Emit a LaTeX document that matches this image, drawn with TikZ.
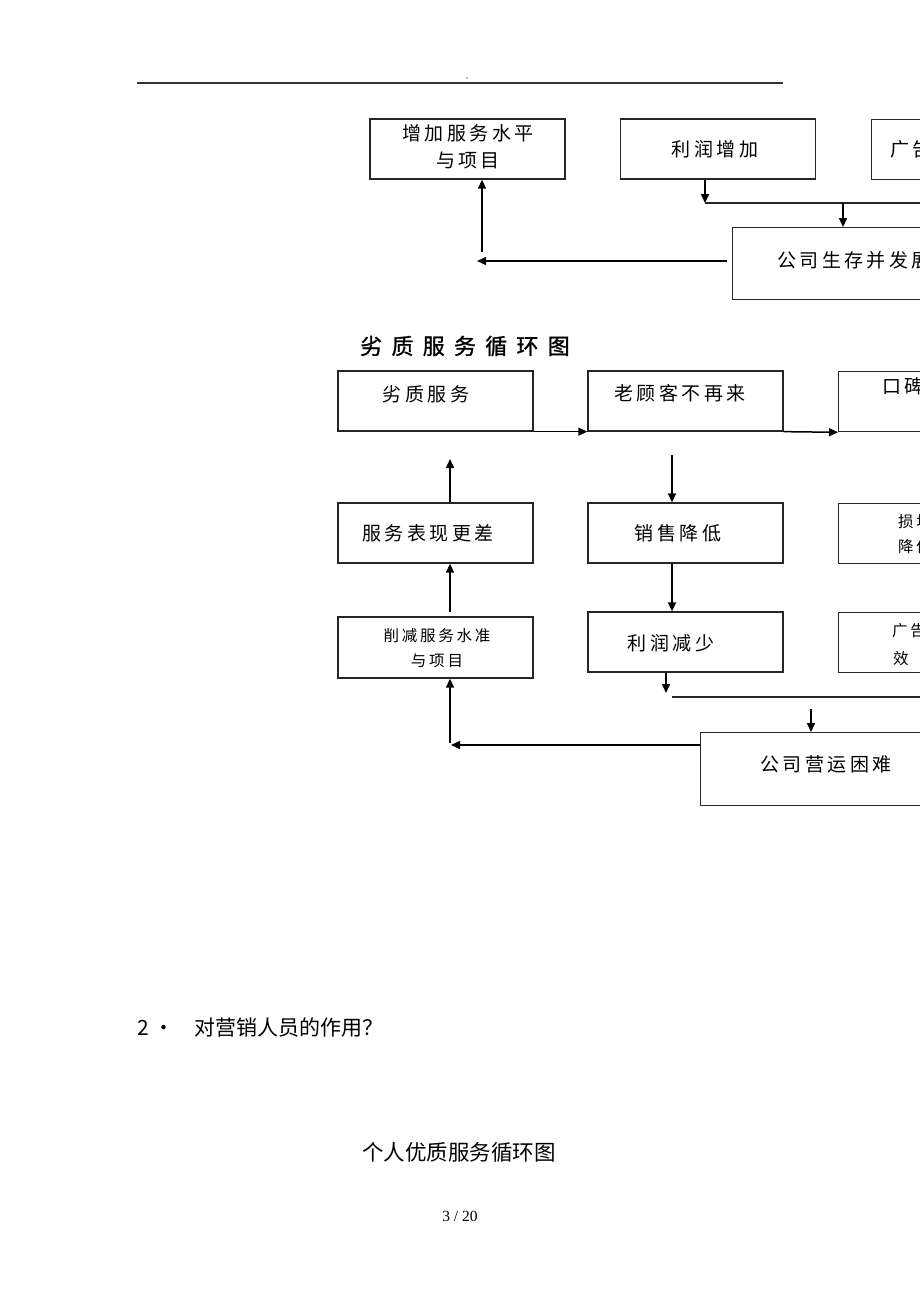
\documentclass[tikz,border=0pt]{standalone}
\usepackage{fontspec}
\usetikzlibrary{arrows.meta}
\setmainfont{Liberation Serif}
\newfontfamily\cjkplain{Noto Sans CJK SC}
\newfontfamily\cjkbx[LetterSpace=18]{Noto Sans CJK SC}
\newfontfamily\cjkttl[LetterSpace=42,FakeBold=1.2]{Noto Sans CJK SC}
\newcommand\myboxfont{\cjkbx\fontsize{19}{27}\selectfont}
\newcommand\mysmallfont{\cjkbx\fontsize{15.5}{25}\selectfont}
\begin{document}
\begin{tikzpicture}[x=1pt,y=-1pt,
  box/.style={draw=black!85,line width=1.3pt,inner sep=0pt,minimum width=195pt,minimum height=60pt},
  txt/.style={inner sep=0pt,font=\myboxfont,align=center},
  arr/.style={line width=1.5pt,-{Triangle[length=9pt,width=8pt]}},
  ln/.style={line width=1.2pt,draw=black!85}]
\path[use as bounding box,fill=white] (0,0) rectangle (920,1302);
\clip (0,0) rectangle (920,1302);

% header
\coordinate (h1) at (137,83);
\coordinate (h2) at (783,83);
\draw[line width=1.3pt,black!80] (h1) -- (h2);
\fill[black!50] (467,78) circle (0.9);

% ---------- top section ----------
\node[box] (zj) at (467.5,149) {};
\node[txt] (zjt) at (468,147) {增加服务水平\\与项目};
\node[box] (lr) at (718,149) {};
\node[txt] (lrt) at (715,149) {利润增加};
\node[box,anchor=north west] (gg) at (871,119) {};
\node[txt,anchor=west] (ggt) at (890,149) {广告};
\node[box,anchor=north west,minimum width=260pt,minimum height=72pt] (ss) at (732,227) {};
\node[txt,anchor=west] (sst) at (777,260) {公司生存并发展};

\coordinate (j1) at (705,203);
\coordinate (j1e) at (930,203);
\draw[arr] (j1 |- lr.south) -- (j1);
\draw[ln] (j1) -- (j1e);
\coordinate (j2) at (843,203);
\draw[arr] (j2) -- (j2 |- ss.north);
\coordinate (t1) at (477,261);
\draw[arr,shorten <=5pt] (ss.west |- t1) -- (t1);
\coordinate (t2) at (482,252);
\draw[arr] (t2) -- (t2 |- zj.south);

% ---------- middle section ----------
\node[inner sep=0pt,font={\cjkttl\fontsize{22}{26}\selectfont}] (ttl) at (465,346) {劣质服务循环图};

\node[box] (lz) at (435.5,401) {};
\node[txt] (lzt) at (426,394) {劣质服务};
\node[box] (lk) at (685.5,401) {};
\node[txt] (lkt) at (680,393) {老顾客不再来};
\node[box,anchor=north west] (kb) at (838,371) {};
\node[txt,anchor=west] (kbt) at (882,386) {口碑};
\draw[arr] (lz.south east) -- (lk.south west);
\draw[arr] (lk.south east) -- (kb.south west);

\node[box] (fw) at (435.5,533) {};
\node[txt] (fwt) at (428,533) {服务表现更差};
\node[box] (xs) at (685.5,533) {};
\node[txt] (xst) at (678,533) {销售降低};
\node[box,anchor=north west] (sh) at (838,503) {};
\node[txt,anchor=west,font=\mysmallfont] (sht1) at (898,522) {损坏};
\node[txt,anchor=west,font=\mysmallfont] (sht2) at (898,547) {降低};

\node[box,minimum height=61pt] (xj) at (435.5,647.5) {};
\node[txt,font=\mysmallfont] (xjt) at (437,648) {削减服务水准\\与项目};
\node[box] (lj) at (685.5,642) {};
\node[txt] (ljt) at (671,643) {利润减少};
\node[box,anchor=north west] (gx) at (838,612) {};
\node[txt,anchor=west,font=\mysmallfont] (gxt1) at (892,631) {广告};
\node[txt,anchor=west,font=\mysmallfont] (gxt2) at (893,659) {效};

\node[box,anchor=north west,minimum width=260pt,minimum height=73pt] (yk) at (700,732) {};
\node[txt] (ykt) at (826,764) {公司营运困难};

\coordinate (m1) at (450,459);
\draw[arr] (m1 |- fw.north) -- (m1);
\coordinate (m2) at (672,455);
\draw[arr] (m2) -- (m2 |- xs.north);
\coordinate (m3) at (450,612);
\draw[arr] (m3) -- (m3 |- fw.south);
\draw[arr] (m2 |- xs.south) -- (m2 |- lj.north);
\coordinate (m5) at (666,693);
\draw[arr] (m5 |- lj.south) -- (m5);
\coordinate (m6) at (672,697);
\coordinate (m6e) at (930,697);
\draw[ln] (m6) -- (m6e);
\coordinate (m7) at (811,709);
\draw[arr] (m7) -- (m7 |- yk.north);
\coordinate (m8) at (451,745);
\draw[arr] (yk.west |- m8) -- (m8);
\coordinate (m9) at (450,743);
\draw[arr] (m9) -- (m9 |- xj.south);

% ---------- bottom text ----------
\node[inner sep=0pt,anchor=west,font={\cjkplain\fontsize{21}{24}\selectfont}] (q2) at (137,1028) {2\hspace{5pt}·};
\node[inner sep=0pt,anchor=west,font={\cjkplain\fontsize{21}{24}\selectfont}] (q2t) at (194,1028) {对营销人员的作用？};
\node[inner sep=0pt,font={\cjkplain\fontsize{21.5}{24}\selectfont}] (st) at (459,1152) {个人优质服务循环图};
\node[inner sep=0pt,font={\fontsize{15.5}{18}\selectfont}] (pg) at (460,1216) {3\ /\ 20};
\end{tikzpicture}
\end{document}
